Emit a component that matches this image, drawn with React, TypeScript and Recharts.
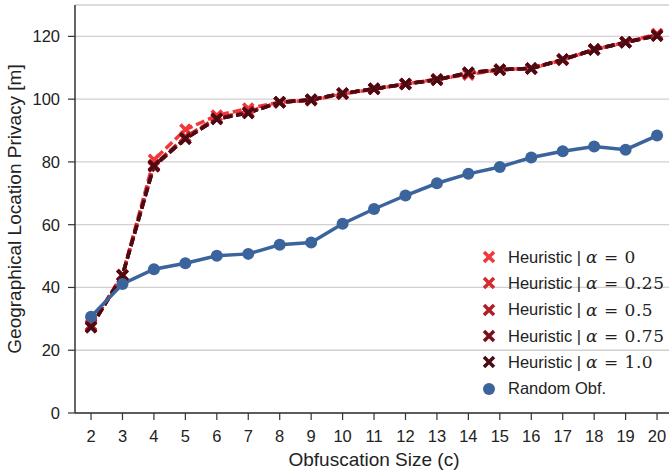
import React from "react";
import { LineChart, Line, XAxis, YAxis, CartesianGrid, Label } from "recharts";

const sizes = [2, 3, 4, 5, 6, 7, 8, 9, 10, 11, 12, 13, 14, 15, 16, 17, 18, 19, 20];
const heurA0 = [28, 44, 80.7, 90.3, 94.8, 97, 99, 99.6, 101.6, 103.2, 104.8, 106.4, 107.8, 109.4, 109.8, 112.5, 115.8, 118.1, 120.8];
const heurA25 = [28, 44, 79, 88, 94, 96, 99, 99.8, 101.8, 103.3, 104.8, 106.2, 108.2, 109.4, 109.8, 112.6, 115.8, 118.1, 120.5];
const heurA50 = [27.5, 44, 78.5, 87.5, 93.8, 95.8, 99, 99.8, 101.8, 103.3, 104.8, 106.2, 108.4, 109.4, 109.8, 112.6, 115.8, 118.1, 120.3];
const heurA75 = [27.3, 43.8, 78.8, 87.4, 93.7, 95.6, 99, 99.8, 101.8, 103.3, 104.8, 106.2, 108.4, 109.4, 109.8, 112.6, 115.8, 118.1, 120.3];
const heurA100 = [27.3, 43.8, 78.8, 87.4, 93.7, 95.6, 99, 99.8, 101.8, 103.3, 104.8, 106.2, 108.4, 109.4, 109.8, 112.6, 115.8, 118.1, 120.2];
const randomObf = [30.7, 41.1, 45.8, 47.7, 50.1, 50.7, 53.6, 54.3, 60.3, 65, 69.3, 73.2, 76.2, 78.4, 81.4, 83.4, 84.9, 83.9, 88.4];
const yTicks = [0, 20, 40, 60, 80, 100, 120];

const heurSeries = [
  { key: "a0", alpha: "0", color: "#f0373a", values: heurA0 },
  { key: "a25", alpha: "0.25", color: "#d62a2d", values: heurA25 },
  { key: "a50", alpha: "0.5", color: "#b11d25", values: heurA50 },
  { key: "a75", alpha: "0.75", color: "#76111a", values: heurA75 },
  { key: "a100", alpha: "1.0", color: "#4a0b14", values: heurA100 },
];
const BLUE = "#3b639c";

const data = sizes.map((c, i) => {
  const row: any = { c, rnd: randomObf[i] };
  heurSeries.forEach(s => { row[s.key] = s.values[i]; });
  return row;
});

const FONT = "'Liberation Sans', Arial, sans-serif";
const MATH = "'DejaVu Serif', serif";

// x-shaped marker drawn at each heuristic point
const xDot = (color: string) => (props: any) => {
  const { cx, cy, index } = props;
  if (cx == null || cy == null) return <g key={index} />;
  const s = 5;
  return (
    <path
      key={index}
      d={`M${cx - s},${cy - s}L${cx + s},${cy + s}M${cx - s},${cy + s}L${cx + s},${cy - s}`}
      stroke={color}
      strokeWidth={3.5}
      fill="none"
    />
  );
};

const LegendX = ({ color }: { color: string }) => (
  <svg width={14} height={14} style={{ display: "block" }}>
    <path d="M2,2L12,12M2,12L12,2" stroke={color} strokeWidth={3.5} />
  </svg>
);

// x-axis title, baseline placed just above the bottom edge
const XTitle = (props: any) => {
  const { viewBox } = props;
  const cx = viewBox.x + viewBox.width / 2;
  return (
    <text x={cx + 2} y={466} textAnchor="middle" fontSize={19} fill="#222" fontFamily={FONT}>
      Obfuscation Size (c)
    </text>
  );
};

export default function App() {
  return (
    <div style={{ position: "absolute", left: 0, top: 0, width: 669, height: 472, background: "#fff" }}>
      <LineChart width={669} height={472} data={data} margin={{ top: 5, right: 0, bottom: 0, left: 0 }}>
        <CartesianGrid vertical={false} stroke="#d0d0d0" strokeWidth={1.3} />
        <XAxis
          dataKey="c"
          type="number"
          domain={[1.49, 20.38]}
          ticks={sizes}
          allowDataOverflow
          height={59}
          tickSize={7}
          tickMargin={10}
          axisLine={{ stroke: "#333", strokeWidth: 1.5 }}
          tickLine={{ stroke: "#333", strokeWidth: 1.2 }}
          tick={{ fontSize: 16.5, fill: "#222", fontFamily: FONT }}
        >
          <Label content={<XTitle />} />
        </XAxis>
        <YAxis
          type="number"
          domain={[0, 130]}
          ticks={yTicks}
          width={75}
          tickSize={7}
          tickMargin={8}
          axisLine={{ stroke: "#333", strokeWidth: 1.5 }}
          tickLine={{ stroke: "#333", strokeWidth: 1.2 }}
          tick={{ fontSize: 16.5, fill: "#222", fontFamily: FONT }}
        >
          <Label
            value="Geographical Location Privacy [m]"
            angle={-90}
            position="insideLeft"
            offset={14}
            style={{ fontSize: 19, fill: "#222", fontFamily: FONT, textAnchor: "middle" }}
          />
        </YAxis>
        {heurSeries.map(s => (
          <Line
            key={s.key}
            dataKey={s.key}
            stroke={s.color}
            strokeWidth={3.5}
            strokeDasharray="9 4"
            dot={xDot(s.color)}
            activeDot={false}
            isAnimationActive={false}
          />
        ))}
        <Line
          dataKey="rnd"
          stroke={BLUE}
          strokeWidth={3.5}
          dot={{ r: 6, fill: BLUE, stroke: BLUE, strokeWidth: 0 }}
          activeDot={false}
          isAnimationActive={false}
        />
      </LineChart>
      <div style={{ position: "absolute", left: 470, top: 244, fontFamily: FONT, fontSize: 16.5, color: "#222" }}>
        {heurSeries.map(s => (
          <div key={s.key} style={{ display: "flex", alignItems: "center", height: 26.3 }}>
            <div style={{ width: 38, display: "flex", justifyContent: "center" }}>
              <LegendX color={s.color} />
            </div>
            <span>Heuristic | </span>
            <span style={{ fontFamily: MATH, fontSize: 17, marginLeft: 5, letterSpacing: 0.5 }}>
              <i>α</i> = {s.alpha}
            </span>
          </div>
        ))}
        <div style={{ display: "flex", alignItems: "center", height: 26.3 }}>
          <div style={{ width: 38, display: "flex", justifyContent: "center" }}>
            <svg width={14} height={14} style={{ display: "block" }}>
              <circle cx={7} cy={7} r={6} fill={BLUE} />
            </svg>
          </div>
          <span>Random Obf.</span>
        </div>
      </div>
    </div>
  );
}
